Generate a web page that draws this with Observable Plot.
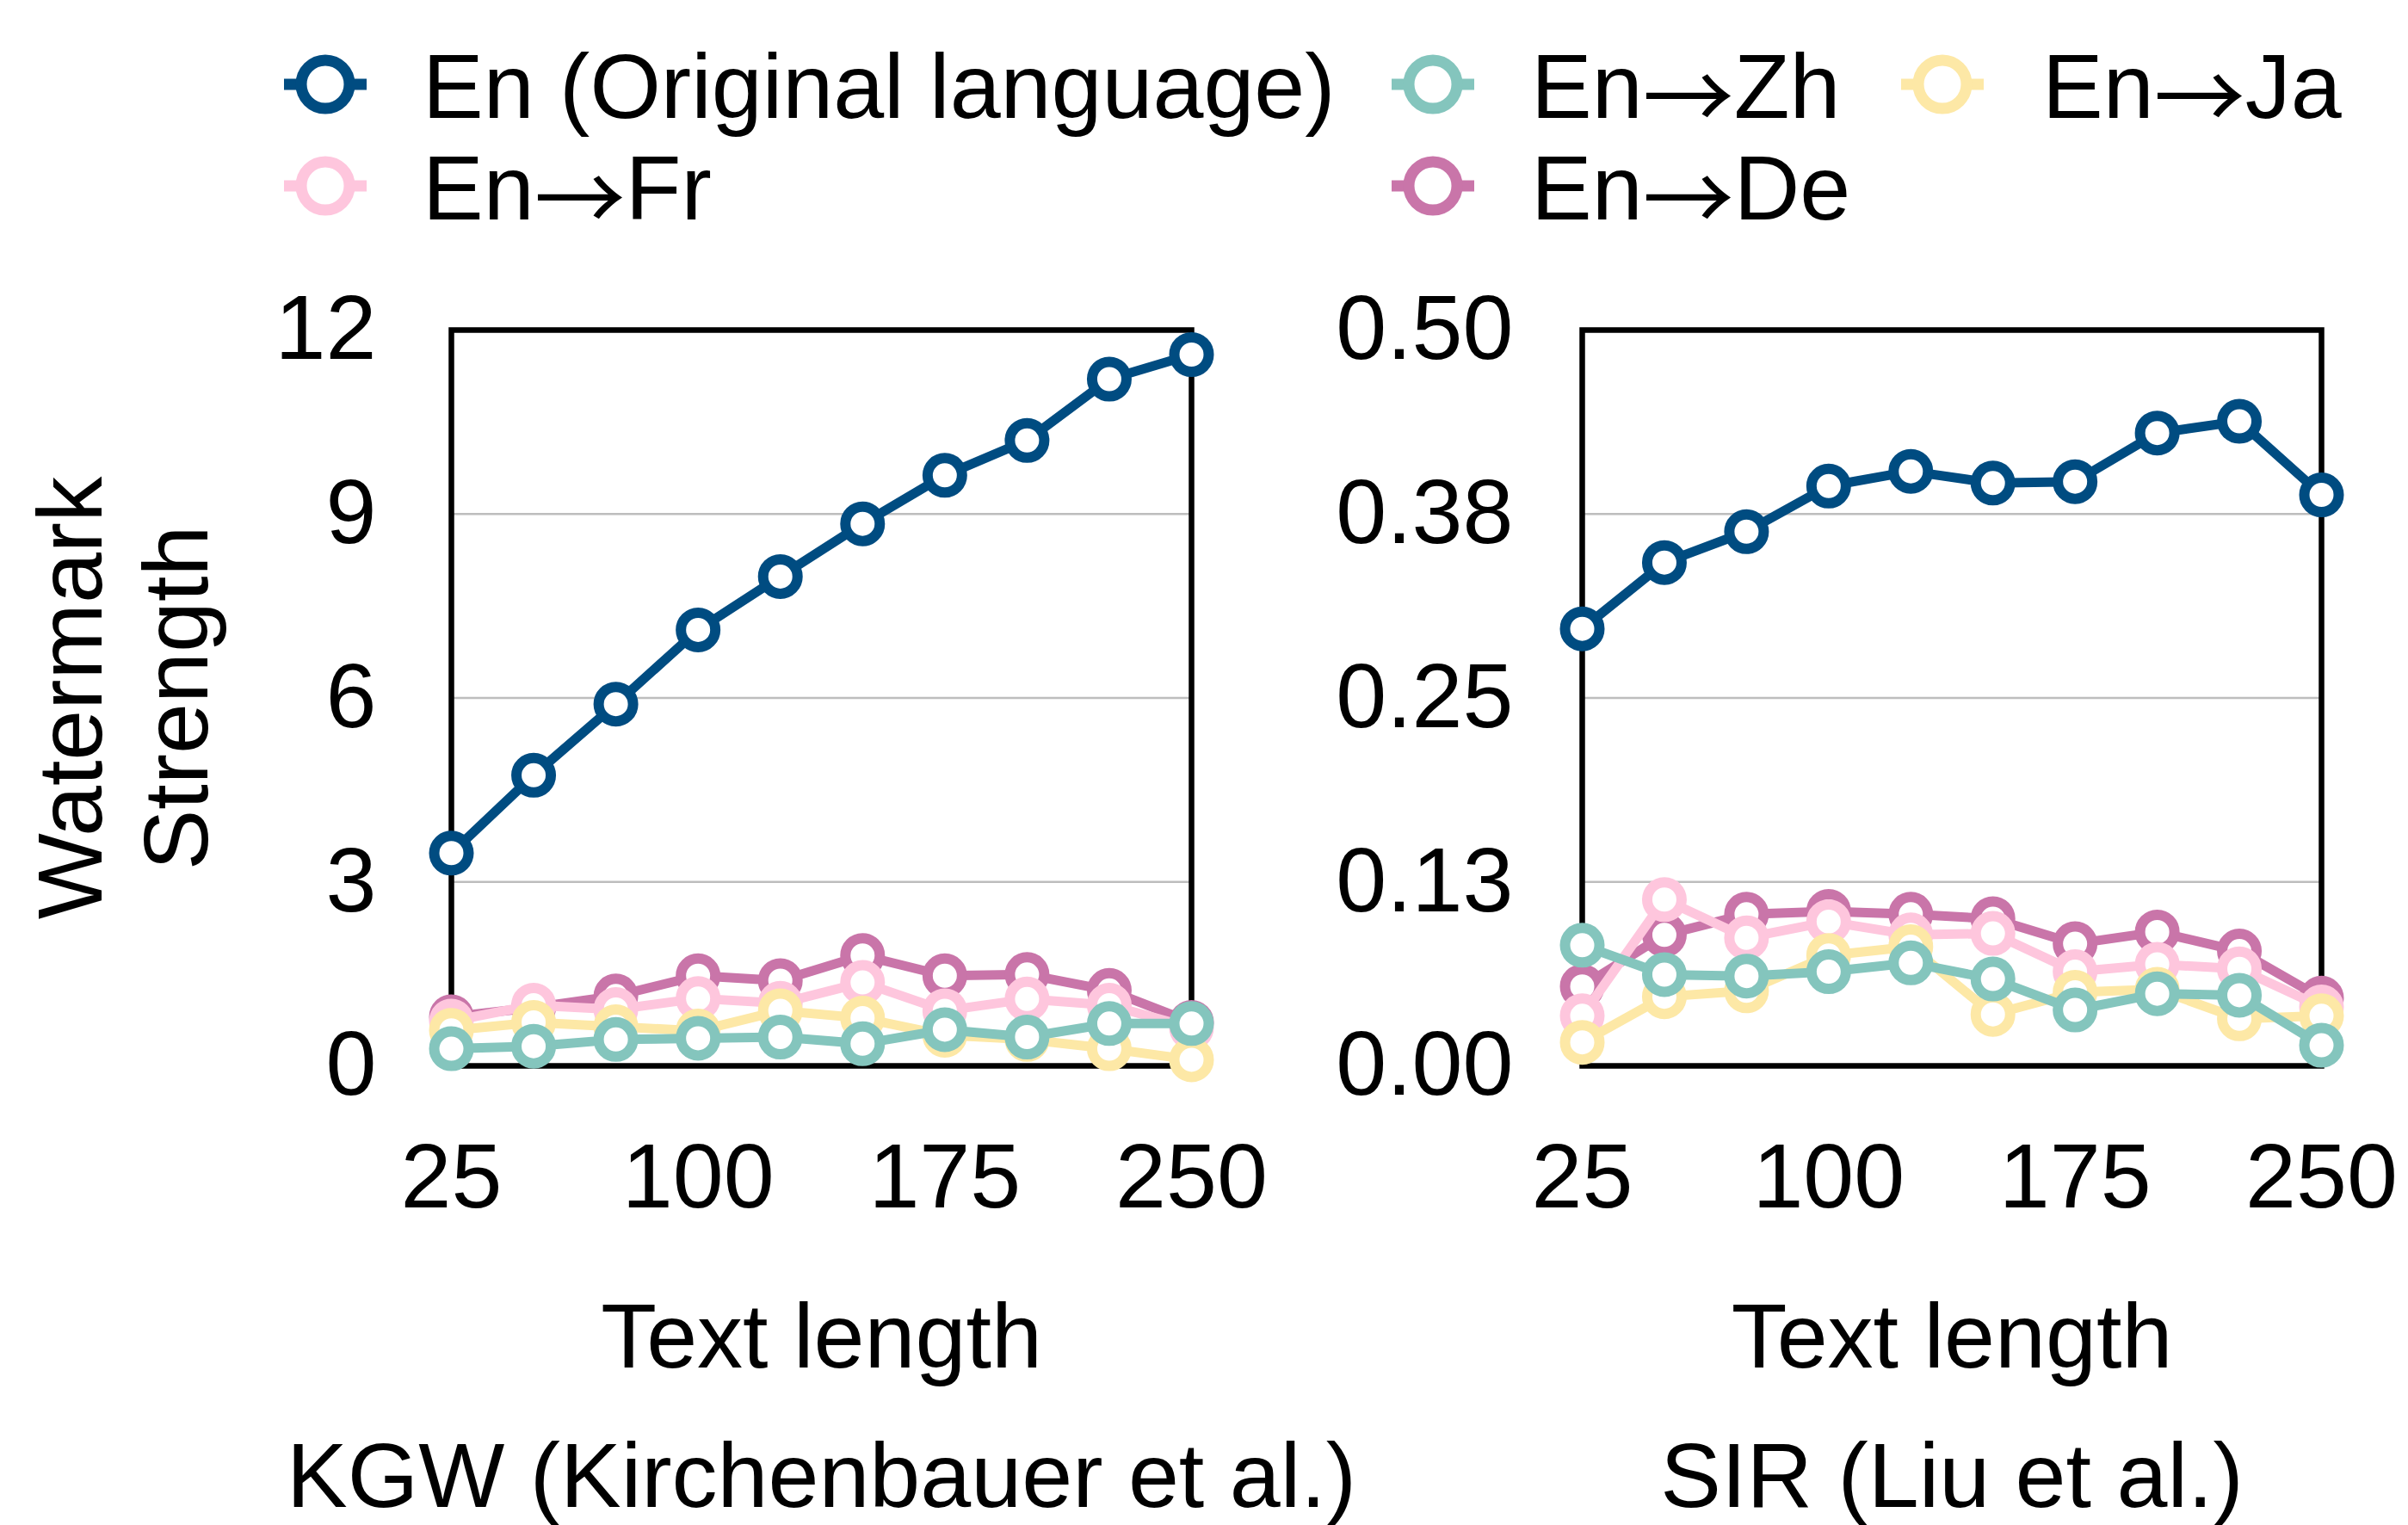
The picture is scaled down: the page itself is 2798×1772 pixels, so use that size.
<!DOCTYPE html>
<html><head><meta charset="utf-8">
<script src="https://cdn.jsdelivr.net/npm/d3@7"></script>
<script src="https://cdn.jsdelivr.net/npm/@observablehq/plot@0.6"></script>
<style>
body{margin:0;background:#fff;font-family:"Liberation Sans",Arial,sans-serif;}
#wrap{position:relative;width:2798px;height:1772px;}
#legend{position:relative;width:2798px;height:300px;}
.sw{position:absolute;overflow:visible;}
.lab{position:absolute;font-size:106px;line-height:1;white-space:nowrap;color:#000;}
.arr{font-family:"Noto Sans CJK SC","DejaVu Sans",sans-serif;position:relative;top:14px;line-height:0;}
#plots{position:relative;width:2798px;height:1472px;}
#plots svg{position:absolute;top:0;}
</style></head><body>
<div id="wrap"><div id="legend"></div><div id="plots"></div></div>
<script>
// ---- data ----
const textLengths = [25, 50, 75, 100, 125, 150, 175, 200, 225, 250];
const xTicks = [25, 100, 175, 250];

const seriesNames = ["En (Original language)", "En→Zh", "En→Ja", "En→Fr", "En→De"];
const seriesColors = ["#004c81", "#84c5bd", "#fde8a6", "#fec6dd", "#c975a9"];

// KGW (Kirchenbauer et al.)
const kgwEn = [3.47, 4.74, 5.90, 7.11, 7.98, 8.84, 9.63, 10.2, 11.2, 11.6];
const kgwZh = [0.28, 0.32, 0.43, 0.45, 0.47, 0.36, 0.59, 0.47, 0.69, 0.69];
const kgwJa = [0.58, 0.71, 0.64, 0.57, 0.90, 0.78, 0.50, 0.43, 0.28, 0.10];
const kgwFr = [0.73, 0.99, 0.92, 1.10, 1.02, 1.36, 0.90, 1.09, 0.99, 0.62];
const kgwDe = [0.80, 0.95, 1.14, 1.47, 1.39, 1.80, 1.47, 1.49, 1.23, 0.71];
const kgwTicks = [0, 3, 6, 9, 12];
const kgwTickLabels = ["0", "3", "6", "9", "12"];
const kgwGrid = [3, 6, 9];

// SIR (Liu et al.)
const sirEn = [0.297, 0.342, 0.363, 0.394, 0.404, 0.396, 0.397, 0.430, 0.438, 0.388];
const sirZh = [0.082, 0.062, 0.061, 0.064, 0.070, 0.059, 0.038, 0.049, 0.048, 0.014];
const sirJa = [0.016, 0.047, 0.051, 0.075, 0.081, 0.035, 0.050, 0.052, 0.032, 0.034];
const sirFr = [0.034, 0.113, 0.087, 0.098, 0.089, 0.090, 0.064, 0.069, 0.066, 0.040];
const sirDe = [0.054, 0.089, 0.103, 0.105, 0.103, 0.100, 0.083, 0.091, 0.078, 0.046];
const sirTicks = [0, 0.125, 0.25, 0.375, 0.5];
const sirTickLabels = ["0.00", "0.13", "0.25", "0.38", "0.50"];
const sirGrid = [0.125, 0.25, 0.375];

const xLabel = "Text length";
const yLabel = "Watermark\nStrength";
const titles = ["KGW (Kirchenbauer et al.)", "SIR (Liu et al.)"];

// ---- legend ----
const FONT = "Liberation Sans";
const legend = document.getElementById("legend");
const legendLayout = [
  {s: 0, mx: 378, tx: 491, cy: 98},
  {s: 1, mx: 1665, tx: 1779, cy: 98},
  {s: 2, mx: 2257, tx: 2373, cy: 98},
  {s: 3, mx: 378, tx: 491, cy: 216},
  {s: 4, mx: 1665, tx: 1779, cy: 216}
];
const NS = "http://www.w3.org/2000/svg";
for (const it of legendLayout) {
  const svg = document.createElementNS(NS, "svg");
  svg.setAttribute("class", "sw");
  svg.setAttribute("width", 100); svg.setAttribute("height", 80);
  svg.style.left = (it.mx - 50) + "px"; svg.style.top = (it.cy - 40) + "px";
  const ln = document.createElementNS(NS, "line");
  ln.setAttribute("x1", 2); ln.setAttribute("x2", 98); ln.setAttribute("y1", 40); ln.setAttribute("y2", 40);
  ln.setAttribute("stroke", seriesColors[it.s]); ln.setAttribute("stroke-width", 13);
  const c = document.createElementNS(NS, "circle");
  c.setAttribute("cx", 50); c.setAttribute("cy", 40); c.setAttribute("r", 28);
  c.setAttribute("fill", "white"); c.setAttribute("stroke", seriesColors[it.s]); c.setAttribute("stroke-width", 13);
  svg.appendChild(ln); svg.appendChild(c);
  legend.appendChild(svg);
  const d = document.createElement("div");
  d.className = "lab";
  const parts = seriesNames[it.s].split("→");
  d.appendChild(document.createTextNode(parts[0]));
  if (parts.length > 1) {
    const a = document.createElement("span");
    a.className = "arr";
    a.textContent = "→";
    d.appendChild(a);
    d.appendChild(document.createTextNode(parts[1]));
  }
  d.style.left = it.tx + "px";
  d.style.top = (it.cy - 51) + "px";
  legend.appendChild(d);
}

// ---- panels ----
const drawOrder = [0, 4, 3, 2, 1]; // En, De, Fr, Ja, Zh

function rowsFrom(valueArrays) {
  const rows = [];
  valueArrays.forEach((vals, s) => {
    vals.forEach((v, i) => rows.push({series: s, x: textLengths[i], y: v}));
  });
  return rows;
}

function panel(opts) {
  const rows = rowsFrom(opts.values);
  const marks = [
    Plot.gridY(opts.grid, {stroke: "#bdbdbd", strokeOpacity: 1, strokeWidth: 2.5}),
    Plot.frame({stroke: "#000", strokeWidth: 6.5}),
    Plot.axisY({ticks: opts.ticks, tickSize: 0, tickPadding: opts.tickPad, label: null,
      tickFormat: d => opts.tickLabels[opts.ticks.indexOf(d)], fontSize: 106}),
    Plot.axisX({ticks: xTicks, tickSize: 0, tickPadding: 89, label: null, fontSize: 106})
  ];
  for (const s of drawOrder) {
    const sub = rows.filter(r => r.series === s);
    marks.push(Plot.line(sub, {x: "x", y: "y", stroke: seriesColors[s], strokeWidth: 11}));
    marks.push(Plot.dot(sub, {x: "x", y: "y", r: 20, stroke: seriesColors[s], strokeWidth: 12, fill: "white"}));
  }
  marks.push(Plot.text([xLabel], {frameAnchor: "bottom", dy: 350, lineAnchor: "bottom", fontSize: 106}));
  marks.push(Plot.text([opts.title], {frameAnchor: "bottom", dy: 512, lineAnchor: "bottom", fontSize: 106}));
  if (opts.yLabel) {
    marks.push(Plot.text([opts.yLabel], {frameAnchor: "left", textAnchor: "middle", rotate: -90, dx: -384, lineHeight: 1.16, fontSize: 106}));
  }
  const p = Plot.plot({
    width: opts.width,
    height: 1472,
    marginLeft: opts.marginLeft,
    marginRight: opts.marginRight,
    marginTop: 83,
    marginBottom: 534,
    x: {domain: [25, 250]},
    y: {domain: opts.domain},
    style: {background: "transparent", fontFamily: FONT, fontSize: "106px", overflow: "visible", color: "black"},
    marks
  });
  p.style.left = opts.left + "px";
  p.style.maxWidth = "none";
  document.getElementById("plots").appendChild(p);
}

panel({values: [kgwEn, kgwZh, kgwJa, kgwFr, kgwDe], domain: [0, 12], ticks: kgwTicks, tickLabels: kgwTickLabels,
  grid: kgwGrid, tickPad: 87, title: titles[0], width: 1620, left: 0, marginLeft: 524, marginRight: 236, yLabel});
panel({values: [sirEn, sirZh, sirJa, sirFr, sirDe], domain: [0, 0.5], ticks: sirTicks, tickLabels: sirTickLabels,
  grid: sirGrid, tickPad: 80, title: titles[1], width: 1298, left: 1500, marginLeft: 338, marginRight: 101});
</script>
</body></html>
